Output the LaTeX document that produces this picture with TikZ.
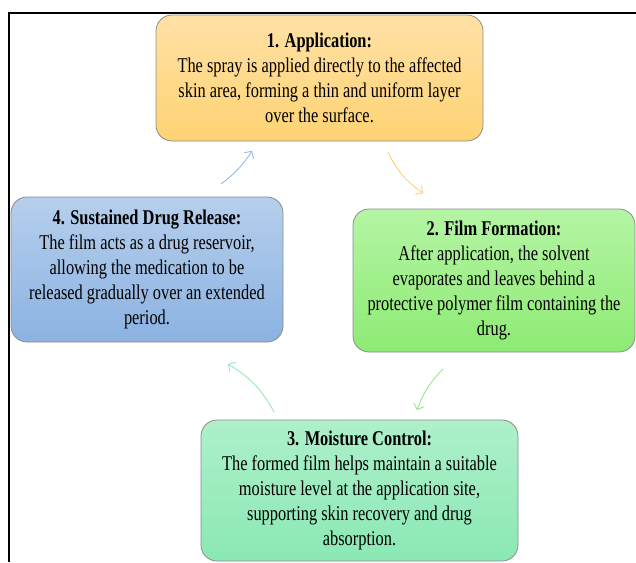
\documentclass[tikz,border=0pt]{standalone}
\usepackage{fontspec}
\setmainfont{Liberation Serif}[FakeStretch=0.78]
\usetikzlibrary{arrows.meta}

\definecolor{appTop}{HTML}{FFE1A6}
\definecolor{appBot}{HTML}{FFD374}
\definecolor{filmTop}{HTML}{B4F5A4}
\definecolor{filmBot}{HTML}{8EEA74}
\definecolor{moistTop}{HTML}{AEF0CA}
\definecolor{moistBot}{HTML}{8AE8B4}
\definecolor{relTop}{HTML}{B6CFEC}
\definecolor{relBot}{HTML}{8BB2E2}

\begin{document}
\begin{tikzpicture}[x=1pt, y=-1pt, >={Straight Barb[length=5pt,width=11pt]},
    phase/.style={draw=black!45, line width=0.8pt, rounded corners=16pt, align=center,
        inner sep=0pt, font=\fontsize{21}{25}\selectfont}]
    \useasboundingbox (0,0) rectangle (636,562);

    % Frame
    \draw[line width=2pt] (636,13) -- (8.5,13) -- (8.5,562);

    % Phase boxes
    \node[phase, top color=appTop, bottom color=appBot, minimum width=327pt, minimum height=126pt]
        (app) at (319.5,78) {\textbf{1. Application:}\\The spray is applied directly to the affected\\skin area, forming a thin and uniform layer\\over the surface.};
    \node[phase, top color=filmTop, bottom color=filmBot, minimum width=282pt, minimum height=143pt]
        (film) at (494,280.5) {\textbf{2. Film Formation:}\\After application, the solvent\\evaporates and leaves behind a\\protective polymer film containing the\\drug.};
    \node[phase, top color=moistTop, bottom color=moistBot, minimum width=317pt, minimum height=141pt]
        (moist) at (359.5,490.5) {\textbf{3. Moisture Control:}\\The formed film helps maintain a suitable\\moisture level at the application site,\\supporting skin recovery and drug\\absorption.};
    \node[phase, top color=relTop, bottom color=relBot, minimum width=272pt, minimum height=145pt]
        (rel) at (147,269.5) {\textbf{4. Sustained Drug Release:}\\The film acts as a drug reservoir,\\allowing the medication to be\\released gradually over an extended\\period.};

    % Arrow ends
    \coordinate (appOut) at (388,152);
    \coordinate (filmIn) at (423,193);
    \coordinate (filmOut) at (443,369);
    \coordinate (moistIn) at (417,410);
    \coordinate (moistOut) at (274,412);
    \coordinate (relIn) at (228,364);
    \coordinate (relOut) at (221,184);
    \coordinate (appIn) at (252,151);

    % Cycle arrows
    \draw[->, line width=0.8pt, appBot!90!orange] (appOut) to[bend right=15] (filmIn);
    \draw[->, line width=0.8pt, filmBot] (filmOut) to[bend right=12] (moistIn);
    \draw[->, line width=0.8pt, moistBot] (moistOut) to[bend right=15] (relIn);
    \draw[->, line width=0.8pt, relBot] (relOut) to[bend right=10] (appIn);
\end{tikzpicture}
\end{document}
